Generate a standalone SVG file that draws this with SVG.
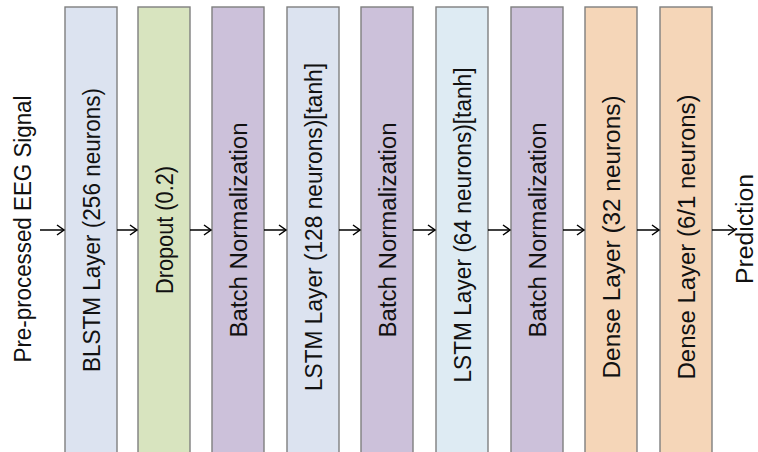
<svg xmlns="http://www.w3.org/2000/svg" width="758" height="452" viewBox="0 0 758 452">
<defs>
<marker id="ah" markerWidth="12" markerHeight="12" refX="9" refY="6" orient="auto" markerUnits="userSpaceOnUse">
<polyline points="2,1 9,6 2,11" fill="none" stroke="#000" stroke-width="1.5"/>
</marker>
<style>
.box{stroke:#7f7f7f;stroke-width:1.4}
.b1{fill:#dce3f0}.b2{fill:#d8e4bf}.b3{fill:#ccc1da}.b6{fill:#deebf3}.b8{fill:#f5d6b8}
.t{font-family:"Liberation Sans",Arial,sans-serif;font-size:23px;fill:#111;text-anchor:middle}
.c{stroke:#000;stroke-width:1.5;fill:none}
</style>
</defs>
<rect width="758" height="452" fill="#fff"/>
<g id="input"><text class="t" transform="translate(31,229) rotate(-90)" textLength="267" lengthAdjust="spacingAndGlyphs">Pre-processed EEG Signal</text></g>
<g id="n1"><rect class="box b1" x="65" y="7" width="52" height="450"/><text class="t" transform="translate(99.5,230) rotate(-90)" textLength="284" lengthAdjust="spacingAndGlyphs">BLSTM Layer (256 neurons)</text></g>
<g id="n2"><rect class="box b2" x="138" y="7" width="52" height="450"/><text class="t" transform="translate(173,230) rotate(-90)" textLength="128" lengthAdjust="spacingAndGlyphs">Dropout (0.2)</text></g>
<g id="n3"><rect class="box b3" x="212" y="7" width="52" height="450"/><text class="t" transform="translate(247,230) rotate(-90)" textLength="215" lengthAdjust="spacingAndGlyphs">Batch Normalization</text></g>
<g id="n4"><rect class="box b1" x="287" y="7" width="52" height="450"/><text class="t" transform="translate(322,227) rotate(-90)" textLength="328" lengthAdjust="spacingAndGlyphs">LSTM Layer (128 neurons)[tanh]</text></g>
<g id="n5"><rect class="box b3" x="361" y="7" width="52" height="450"/><text class="t" transform="translate(396,230) rotate(-90)" textLength="215" lengthAdjust="spacingAndGlyphs">Batch Normalization</text></g>
<g id="n6"><rect class="box b6" x="436" y="7" width="52" height="450"/><text class="t" transform="translate(471,225) rotate(-90)" textLength="315" lengthAdjust="spacingAndGlyphs">LSTM Layer (64 neurons)[tanh]</text></g>
<g id="n7"><rect class="box b3" x="511" y="7" width="52" height="450"/><text class="t" transform="translate(546,230) rotate(-90)" textLength="215" lengthAdjust="spacingAndGlyphs">Batch Normalization</text></g>
<g id="n8"><rect class="box b8" x="585" y="7" width="52" height="450"/><text class="t" transform="translate(620,237) rotate(-90)" textLength="283" lengthAdjust="spacingAndGlyphs">Dense Layer (32 neurons)</text></g>
<g id="n9"><rect class="box b8" x="660" y="7" width="52" height="450"/><text class="t" transform="translate(695,237) rotate(-90)" textLength="285" lengthAdjust="spacingAndGlyphs">Dense Layer (6/1 neurons)</text></g>
<g id="output"><text class="t" transform="translate(753,229) rotate(-90)" textLength="110" lengthAdjust="spacingAndGlyphs">Prediction</text></g>
<g id="connectors">
<line class="c" x1="40" y1="230" x2="64" y2="230" marker-end="url(#ah)"/>
<line class="c" x1="117" y1="230" x2="137" y2="230" marker-end="url(#ah)"/>
<line class="c" x1="190" y1="230" x2="211" y2="230" marker-end="url(#ah)"/>
<line class="c" x1="264" y1="230" x2="286" y2="230" marker-end="url(#ah)"/>
<line class="c" x1="339" y1="230" x2="360" y2="230" marker-end="url(#ah)"/>
<line class="c" x1="413" y1="230" x2="435" y2="230" marker-end="url(#ah)"/>
<line class="c" x1="488" y1="230" x2="510" y2="230" marker-end="url(#ah)"/>
<line class="c" x1="563" y1="230" x2="584" y2="230" marker-end="url(#ah)"/>
<line class="c" x1="637" y1="230" x2="659" y2="230" marker-end="url(#ah)"/>
<line class="c" x1="712" y1="230" x2="735" y2="230" marker-end="url(#ah)"/>
</g>
</svg>
